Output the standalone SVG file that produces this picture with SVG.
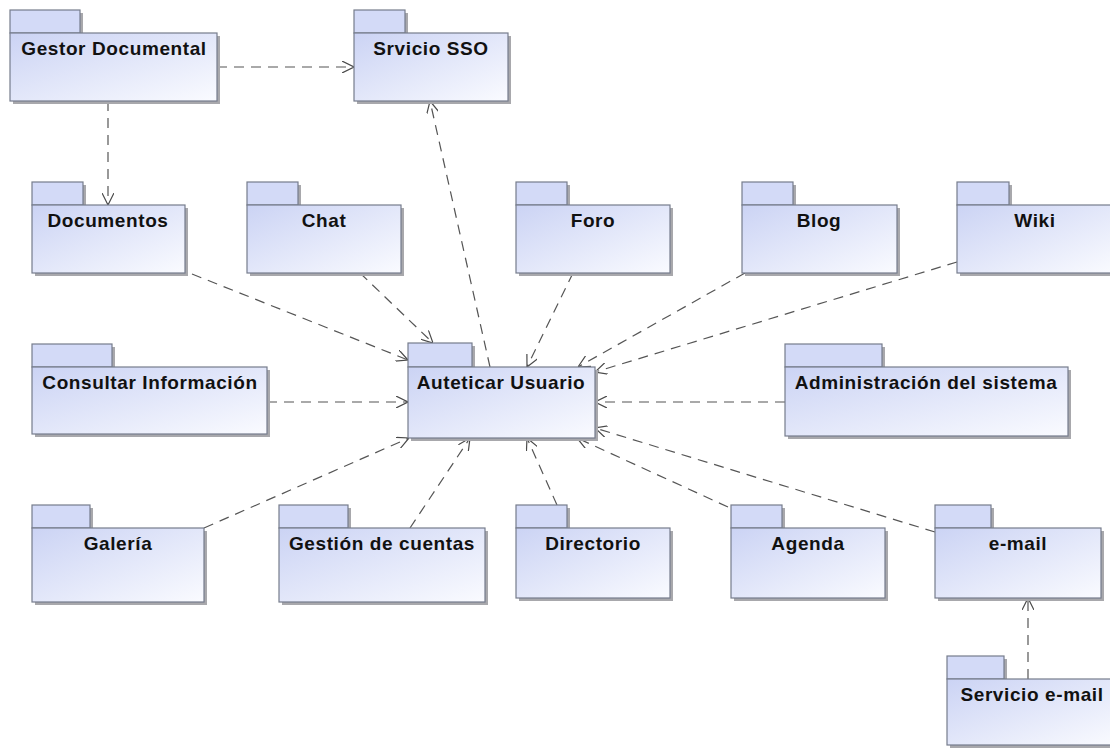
<svg xmlns="http://www.w3.org/2000/svg" width="1110" height="749" viewBox="0 0 1110 749">
<defs>
<linearGradient id="g" x1="0" y1="0" x2="1" y2="1">
<stop offset="0" stop-color="#cbd3f4"/>
<stop offset="1" stop-color="#fafbff"/>
</linearGradient>
<marker id="a" viewBox="0 0 12 12" refX="12" refY="6" markerWidth="12" markerHeight="12" markerUnits="userSpaceOnUse" orient="auto">
<path d="M0,0 L12,6 L0,12" fill="none" stroke="#4a4a4a" stroke-width="1.2"/>
</marker>
</defs>
<style>
.sh{fill:#a8a8ac;stroke:none}
.tab{fill:#d3daf7;stroke:#767c8c;stroke-width:1.2}
.body{fill:url(#g);stroke:#767c8c;stroke-width:1.2}
.lbl{font-family:"Liberation Sans",Arial,sans-serif;font-weight:bold;font-size:19px;letter-spacing:0.6px;fill:#111;text-anchor:middle}
.c path{fill:none;stroke:#555;stroke-width:1.2;stroke-dasharray:10 7;marker-end:url(#a)}
</style>
<rect width="1110" height="749" fill="#fff"/>
<g class="c" id="connectors">
<path d="M217,67 L354,67"/>
<path d="M108,101 L108,205"/>
<path d="M490,367 L430,101"/>
<path d="M192,274 L408,360"/>
<path d="M360,273 L433,343"/>
<path d="M573,273 L527,367"/>
<path d="M745,273 L578,367"/>
<path d="M957,262 L595,372"/>
<path d="M267,402 L408,402"/>
<path d="M785,402 L595,402"/>
<path d="M204,528 L409,438"/>
<path d="M410,528 L470,438"/>
<path d="M557,505 L527,438"/>
<path d="M728,507 L577,438"/>
<path d="M935,532 L595,428"/>
<path d="M1028,679 L1028,598"/>
</g>
<g id="gestor"><rect class="sh" x="13" y="13" width="70" height="23"/><rect class="sh" x="13" y="36" width="207" height="68"/><rect class="tab" x="10" y="10" width="70" height="23"/><rect class="body" x="10" y="33" width="207" height="68"/><text class="lbl" x="114" y="55">Gestor Documental</text></g>
<g id="sso"><rect class="sh" x="357" y="13" width="51" height="23"/><rect class="sh" x="357" y="36" width="154" height="68"/><rect class="tab" x="354" y="10" width="51" height="23"/><rect class="body" x="354" y="33" width="154" height="68"/><text class="lbl" x="431" y="55">Srvicio SSO</text></g>
<g id="documentos"><rect class="sh" x="35" y="185" width="51" height="23"/><rect class="sh" x="35" y="208" width="153" height="68"/><rect class="tab" x="32" y="182" width="51" height="23"/><rect class="body" x="32" y="205" width="153" height="68"/><text class="lbl" x="108" y="227">Documentos</text></g>
<g id="chat"><rect class="sh" x="250" y="185" width="51" height="23"/><rect class="sh" x="250" y="208" width="154" height="68"/><rect class="tab" x="247" y="182" width="51" height="23"/><rect class="body" x="247" y="205" width="154" height="68"/><text class="lbl" x="324" y="227">Chat</text></g>
<g id="foro"><rect class="sh" x="519" y="185" width="51" height="23"/><rect class="sh" x="519" y="208" width="154" height="68"/><rect class="tab" x="516" y="182" width="51" height="23"/><rect class="body" x="516" y="205" width="154" height="68"/><text class="lbl" x="593" y="227">Foro</text></g>
<g id="blog"><rect class="sh" x="745" y="185" width="51" height="23"/><rect class="sh" x="745" y="208" width="155" height="68"/><rect class="tab" x="742" y="182" width="51" height="23"/><rect class="body" x="742" y="205" width="155" height="68"/><text class="lbl" x="819" y="227">Blog</text></g>
<g id="wiki"><rect class="sh" x="960" y="185" width="52" height="23"/><rect class="sh" x="960" y="208" width="156" height="68"/><rect class="tab" x="957" y="182" width="52" height="23"/><rect class="body" x="957" y="205" width="156" height="68"/><text class="lbl" x="1035" y="227">Wiki</text></g>
<g id="consultar"><rect class="sh" x="35" y="347" width="80" height="23"/><rect class="sh" x="35" y="370" width="235" height="67"/><rect class="tab" x="32" y="344" width="80" height="23"/><rect class="body" x="32" y="367" width="235" height="67"/><text class="lbl" x="150" y="389">Consultar Información</text></g>
<g id="autenticar"><rect class="sh" x="411" y="346" width="64" height="24"/><rect class="sh" x="411" y="370" width="187" height="71"/><rect class="tab" x="408" y="343" width="64" height="24"/><rect class="body" x="408" y="367" width="187" height="71"/><text class="lbl" x="501" y="389">Auteticar Usuario</text></g>
<g id="admin"><rect class="sh" x="788" y="347" width="97" height="23"/><rect class="sh" x="788" y="370" width="283" height="69"/><rect class="tab" x="785" y="344" width="97" height="23"/><rect class="body" x="785" y="367" width="283" height="69"/><text class="lbl" x="926" y="389">Administración del sistema</text></g>
<g id="galeria"><rect class="sh" x="35" y="508" width="58" height="23"/><rect class="sh" x="35" y="531" width="172" height="74"/><rect class="tab" x="32" y="505" width="58" height="23"/><rect class="body" x="32" y="528" width="172" height="74"/><text class="lbl" x="118" y="550">Galería</text></g>
<g id="gestion"><rect class="sh" x="282" y="508" width="69" height="23"/><rect class="sh" x="282" y="531" width="206" height="74"/><rect class="tab" x="279" y="505" width="69" height="23"/><rect class="body" x="279" y="528" width="206" height="74"/><text class="lbl" x="382" y="550">Gestión de cuentas</text></g>
<g id="directorio"><rect class="sh" x="519" y="508" width="51" height="23"/><rect class="sh" x="519" y="531" width="154" height="70"/><rect class="tab" x="516" y="505" width="51" height="23"/><rect class="body" x="516" y="528" width="154" height="70"/><text class="lbl" x="593" y="550">Directorio</text></g>
<g id="agenda"><rect class="sh" x="734" y="508" width="51" height="23"/><rect class="sh" x="734" y="531" width="154" height="70"/><rect class="tab" x="731" y="505" width="51" height="23"/><rect class="body" x="731" y="528" width="154" height="70"/><text class="lbl" x="808" y="550">Agenda</text></g>
<g id="email"><rect class="sh" x="938" y="508" width="56" height="23"/><rect class="sh" x="938" y="531" width="166" height="70"/><rect class="tab" x="935" y="505" width="56" height="23"/><rect class="body" x="935" y="528" width="166" height="70"/><text class="lbl" x="1018" y="550">e-mail</text></g>
<g id="servicio"><rect class="sh" x="950" y="659" width="57" height="23"/><rect class="sh" x="950" y="682" width="170" height="66"/><rect class="tab" x="947" y="656" width="57" height="23"/><rect class="body" x="947" y="679" width="170" height="66"/><text class="lbl" x="1032" y="701">Servicio e-mail</text></g>
</svg>
